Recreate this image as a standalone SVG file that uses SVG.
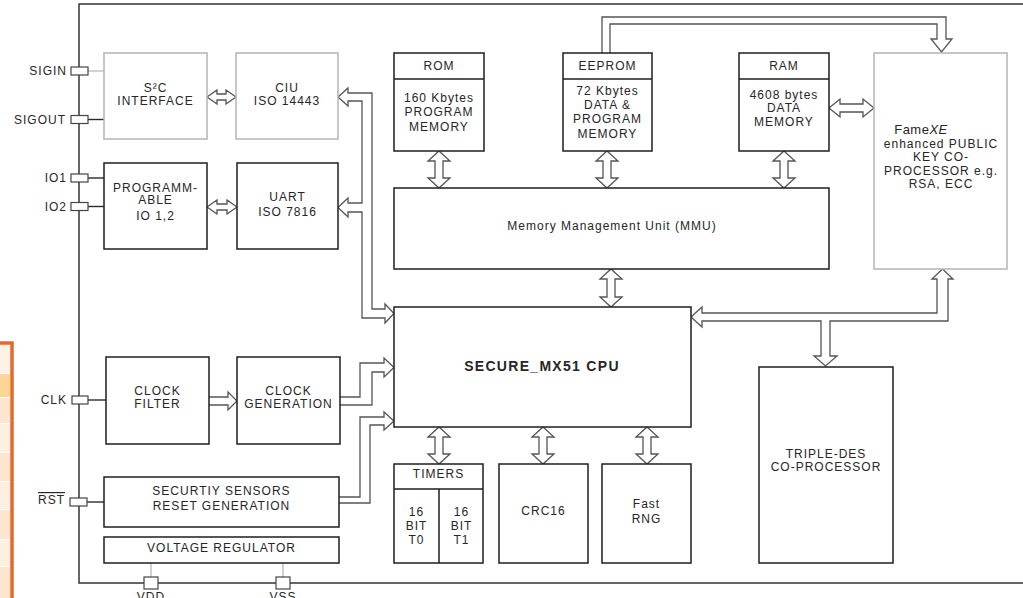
<svg xmlns="http://www.w3.org/2000/svg" width="1023" height="598" viewBox="0 0 1023 598">
<style>
.t{font-family:"Liberation Sans",Arial,sans-serif;font-size:12px;letter-spacing:1px;fill:#262626;text-anchor:middle}
.pl{font-family:"Liberation Sans",Arial,sans-serif;font-size:12px;letter-spacing:1px;fill:#262626;text-anchor:end}
.b{fill:#fff;stroke:#1e1e1e;stroke-width:1.5}
.g{fill:#fff;stroke:#b4b4b4;stroke-width:1.5}
.ln{fill:none;stroke:#1e1e1e;stroke-width:1.5}
.ar{fill:#fff;stroke:#555;stroke-width:1.3;stroke-linejoin:miter}
.bus{fill:none;stroke:#555;stroke-width:1.3;stroke-linejoin:miter}
.pin{fill:#fff;stroke:#444;stroke-width:1.2}
.w{stroke:#2a2a2a;stroke-width:1.4;fill:none}
.wg{stroke:#bdbdbd;stroke-width:1.4;fill:none}
</style>
<rect width="1023" height="598" fill="#fff"/>

<g id="fragment">
<rect x="0" y="345" width="10" height="28" fill="#fdf2e6"/>
<rect x="0" y="374" width="10" height="23" fill="#fcd597"/>
<rect x="0" y="398" width="10" height="25" fill="#fde6cf"/>
<rect x="0" y="424" width="10" height="28" fill="#fdefe1"/>
<rect x="0" y="453" width="10" height="28" fill="#fde6cf"/>
<rect x="0" y="482" width="10" height="27" fill="#fdefe1"/>
<rect x="0" y="510" width="10" height="29" fill="#fde6cf"/>
<rect x="0" y="540" width="10" height="26" fill="#fdefe1"/>
<rect x="0" y="567" width="10" height="31" fill="#fde6cf"/>
<path d="M0,343 H12 V598" fill="none" stroke="#e4692c" stroke-width="3.5"/>
</g>

<g id="chip">
<path d="M1025,4 H79 V583 H1025" fill="none" stroke="#333" stroke-width="1.5"/>
</g>

<g id="connectors">
<line class="wg" x1="88" y1="71" x2="104" y2="71"/>
<line class="w" x1="88" y1="119.5" x2="104" y2="119.5"/>
<line class="w" x1="88" y1="178" x2="104" y2="178"/>
<line class="w" x1="88" y1="206.5" x2="104" y2="206.5"/>
<line class="w" x1="88" y1="400" x2="106" y2="400"/>
<line class="w" x1="87" y1="502" x2="104" y2="502"/>
<line class="wg" x1="151" y1="563" x2="151" y2="577"/>
<line class="wg" x1="283" y1="563" x2="283" y2="577"/>

<polygon class="ar" points="207,97 217,90 217,94 226,94 226,90 236,97 226,104 226,100 217,100 217,104"/>
<polygon class="ar" points="207,207 217,200 217,204 227,204 227,200 237,207 227,214 227,210 217,210 217,214"/>
<polygon class="ar" points="829,108 840,99 840,104 863,104 863,99 874,108 863,117 863,112 840,112 840,117"/>
<polygon class="ar" points="439,151 450,161 443,161 443,178 450,178 439,188 428,178 435,178 435,161 428,161"/>
<polygon class="ar" points="607,151 618,161 611,161 611,178 618,178 607,188 596,178 603,178 603,161 596,161"/>
<polygon class="ar" points="784,151 795,161 788,161 788,178 795,178 784,188 773,178 780,178 780,161 773,161"/>
<polygon class="ar" points="611,269 622,279 615,279 615,297 622,297 611,307 600,297 607,297 607,279 600,279"/>
<polygon class="ar" points="439,427 450,437 443,437 443,454 450,454 439,464 428,454 435,454 435,437 428,437"/>
<polygon class="ar" points="543,427 554,437 547,437 547,454 554,454 543,464 532,454 539,454 539,437 532,437"/>
<polygon class="ar" points="647,427 658,437 651,437 651,454 658,454 647,464 636,454 643,454 643,437 636,437"/>

<polyline class="bus" points="209,397 228,397 228,392 237,401 228,410 228,405 209,405"/>
<polygon class="ar" points="385,309 372,309 372,93 348,93 348,88 338,97 348,106 348,101 362,101 362,203 348,203 348,198 338,207.5 348,217 348,212 362,212 362,318 385,318 385,323 394,313.5 385,304"/>
<polyline class="bus" points="340,397 360,397 360,363 384,363 384,358 394,367.5 384,377 384,372 372,372 372,405 340,405"/>
<polyline class="bus" points="339,497 360,497 360,417 384,417 384,412 394,421 384,430 384,425 370,425 370,503 339,503"/>
<polyline class="bus" points="602,53 602,17 946,17 946,39 952,39 941.5,52 931,39 937,39 937,24 610,24 610,53"/>
<polygon class="ar" points="942.5,269 953,279 948,279 948,321 830,321 830,356 837,356 825.5,366 814,356 821,356 821,321 702,321 702,327 691,317 702,307 702,313 937,313 937,279 932,279"/>
</g>

<g id="pin-sigin"><rect class="pin" x="71" y="67" width="17" height="8"/><text class="pl" x="67" y="75">SIGIN</text></g>
<g id="pin-sigout"><rect class="pin" x="71" y="115.5" width="17" height="8"/><text class="pl" x="66" y="124">SIGOUT</text></g>
<g id="pin-io1"><rect class="pin" x="71" y="174" width="17" height="8"/><text class="pl" x="67" y="182">IO1</text></g>
<g id="pin-io2"><rect class="pin" x="71" y="202.5" width="17" height="8"/><text class="pl" x="67" y="211">IO2</text></g>
<g id="pin-clk"><rect class="pin" x="72" y="396" width="16" height="8"/><text class="pl" x="67" y="404">CLK</text></g>
<g id="pin-rst"><rect class="pin" x="70" y="498" width="17" height="8"/><text class="pl" x="65" y="504" style="text-decoration:overline">RST</text></g>
<g id="pin-vdd"><rect class="pin" x="144" y="577" width="14" height="12"/><text class="t" x="151" y="601">VDD</text></g>
<g id="pin-vss"><rect class="pin" x="276" y="577" width="14" height="12"/><text class="t" x="283" y="601">VSS</text></g>

<g id="s2c"><rect class="g" x="104" y="53" width="103" height="86"/><text class="t" x="155.5" y="92">S²C</text><text class="t" x="155.5" y="105">INTERFACE</text></g>
<g id="ciu"><rect class="g" x="236" y="53" width="102" height="86"/><text class="t" x="287" y="92">CIU</text><text class="t" x="287" y="105">ISO 14443</text></g>
<g id="prog-io"><rect class="b" x="104" y="163" width="103" height="86"/><text class="t" x="155.5" y="192">PROGRAMM-</text><text class="t" x="155.5" y="204">ABLE</text><text class="t" x="155.5" y="220">IO 1,2</text></g>
<g id="uart"><rect class="b" x="237" y="163" width="101" height="86"/><text class="t" x="287.5" y="201">UART</text><text class="t" x="287.5" y="216">ISO 7816</text></g>
<g id="clock-filter"><rect class="b" x="106" y="357" width="103" height="87"/><text class="t" x="157.5" y="395">CLOCK</text><text class="t" x="157.5" y="408">FILTER</text></g>
<g id="clock-gen"><rect class="b" x="237" y="357" width="103" height="87"/><text class="t" x="288.5" y="395">CLOCK</text><text class="t" x="288.5" y="408">GENERATION</text></g>
<g id="security"><rect class="b" x="104" y="477" width="235" height="50"/><text class="t" x="221.5" y="495">SECURTIY SENSORS</text><text class="t" x="221.5" y="510">RESET GENERATION</text></g>
<g id="vreg"><rect class="b" x="104" y="537" width="235" height="26"/><text class="t" x="221.5" y="552">VOLTAGE REGULATOR</text></g>

<g id="rom"><rect class="b" x="394" y="53" width="90" height="98"/><line class="ln" x1="394" y1="79" x2="484" y2="79"/><text class="t" x="439" y="70">ROM</text><text class="t" x="439" y="102">160 Kbytes</text><text class="t" x="439" y="116">PROGRAM</text><text class="t" x="439" y="131">MEMORY</text></g>
<g id="eeprom"><rect class="b" x="563" y="53" width="89" height="98"/><line class="ln" x1="563" y1="79" x2="652" y2="79"/><text class="t" x="607.5" y="70">EEPROM</text><text class="t" x="607.5" y="95">72 Kbytes</text><text class="t" x="607.5" y="109">DATA &amp;</text><text class="t" x="607.5" y="123">PROGRAM</text><text class="t" x="607.5" y="138">MEMORY</text></g>
<g id="ram"><rect class="b" x="739" y="53" width="90" height="98"/><line class="ln" x1="739" y1="79" x2="829" y2="79"/><text class="t" x="784" y="70">RAM</text><text class="t" x="784" y="99">4608 bytes</text><text class="t" x="784" y="112">DATA</text><text class="t" x="784" y="126">MEMORY</text></g>
<g id="famexe"><rect class="g" x="874" y="53" width="133" height="216"/><text class="t" x="921" y="134" style="font-size:13px;letter-spacing:0.5px">Fame<tspan font-style="italic">XE</tspan></text><text class="t" x="941" y="148">enhanced PUBLIC</text><text class="t" x="941" y="161">KEY CO-</text><text class="t" x="941" y="175">PROCESSOR e.g.</text><text class="t" x="941" y="188">RSA, ECC</text></g>
<g id="mmu"><rect class="b" x="394" y="188" width="435" height="81"/><text class="t" x="612" y="230">Memory Management Unit (MMU)</text></g>
<g id="cpu"><rect class="b" x="394" y="307" width="297" height="120"/><text class="t" x="542" y="371" style="font-size:14px;font-weight:bold;letter-spacing:1.3px">SECURE_MX51 CPU</text></g>
<g id="timers"><rect class="b" x="394" y="464" width="89" height="99"/><line class="ln" x1="394" y1="489" x2="483" y2="489"/><line class="ln" x1="439" y1="489" x2="439" y2="563"/><text class="t" x="438.5" y="478">TIMERS</text><text class="t" x="416.5" y="516">16</text><text class="t" x="416.5" y="530">BIT</text><text class="t" x="416.5" y="544">T0</text><text class="t" x="461.5" y="516">16</text><text class="t" x="461.5" y="530">BIT</text><text class="t" x="461.5" y="544">T1</text></g>
<g id="crc16"><rect class="b" x="499" y="464" width="89" height="99"/><text class="t" x="543.5" y="515">CRC16</text></g>
<g id="rng"><rect class="b" x="602" y="464" width="89" height="99"/><text class="t" x="646.5" y="508">Fast</text><text class="t" x="646.5" y="523">RNG</text></g>
<g id="triple-des"><rect class="b" x="759" y="367" width="134" height="196"/><text class="t" x="826" y="458">TRIPLE-DES</text><text class="t" x="826" y="471">CO-PROCESSOR</text></g>
</svg>
